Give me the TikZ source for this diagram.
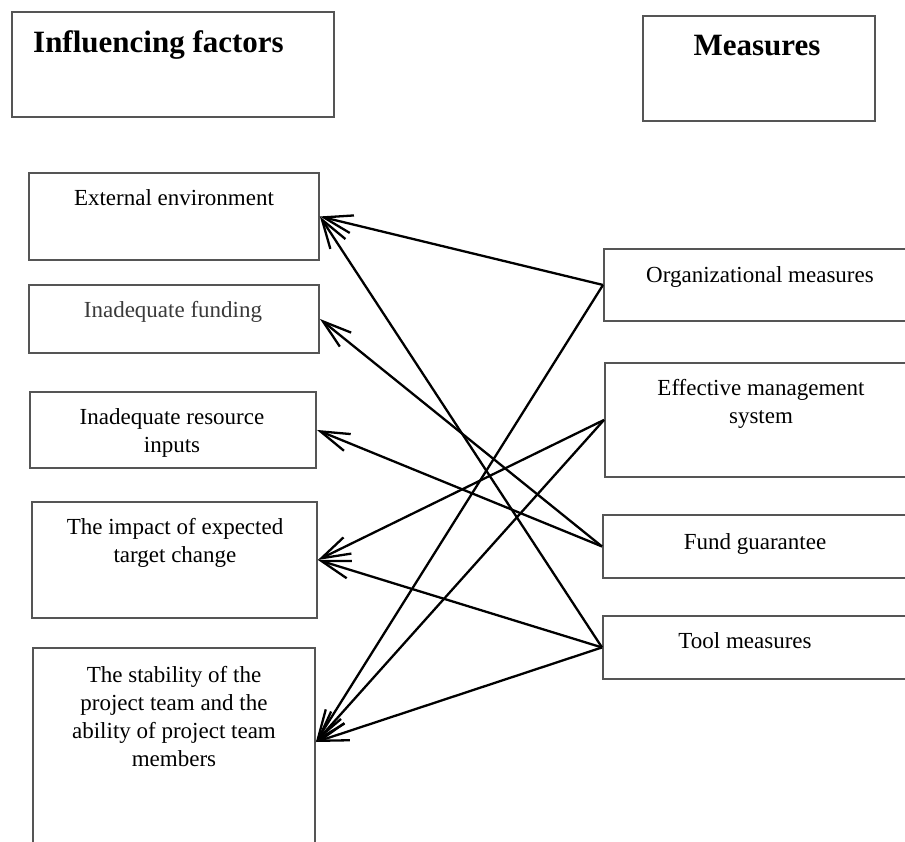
\documentclass[tikz,border=0pt]{standalone}
\usepackage{fontspec}
\setmainfont{Liberation Serif}
\usetikzlibrary{arrows.meta}
\definecolor{boxgray}{HTML}{555555}
\definecolor{txtgray}{HTML}{3A3A3A}
\begin{document}
\begin{tikzpicture}[x=1pt,y=-1pt,
  box/.style={draw=boxgray, line width=1.9pt, rectangle, inner sep=0pt, anchor=north west},
  lbl/.style={anchor=north, inner sep=0pt, align=center, font=\fontsize{23}{28}\selectfont},
  ttl/.style={anchor=base, inner sep=0pt, font=\fontsize{31}{36}\selectfont\bfseries},
  link/.style={line width=2.3pt, -{Straight Barb[length=29pt,width=18pt]}}]
\useasboundingbox (0,0) rectangle (905,841);
\clip (0,0) rectangle (905,841);
% header boxes
\node[box, minimum width=322pt, minimum height=105pt] (inf) at (11,11) {};
\node[box, minimum width=232pt, minimum height=105pt] (mea) at (642,15) {};
\node[ttl, anchor=base west] (tinf) at (33,52) {Influencing factors};
\node[ttl] (tmea) at (757,55) {Measures};
% left boxes
\node[box, minimum width=290pt, minimum height=87pt] (ext) at (28,172) {};
\node[box, minimum width=290pt, minimum height=68pt] (fund) at (28,284) {};
\node[box, minimum width=286pt, minimum height=76pt] (res) at (29,391) {};
\node[box, minimum width=285pt, minimum height=116pt] (imp) at (31,501) {};
\node[box, minimum width=282pt, minimum height=260pt] (stab) at (32,647) {};
% right boxes
\node[box, minimum width=400pt, minimum height=72pt] (org) at (603,248) {};
\node[box, minimum width=400pt, minimum height=114pt] (ems) at (604,362) {};
\node[box, minimum width=400pt, minimum height=63pt] (fg) at (602,514) {};
\node[box, minimum width=400pt, minimum height=63pt] (tool) at (602,615) {};
% labels
\node[lbl] (text) at (174,189) {External environment};
\node[lbl, text=txtgray] (tfund) at (173,301) {Inadequate funding};
\node[lbl] (tres) at (172,408) {Inadequate resource\\inputs};
\node[lbl] (timp) at (175,518) {The impact of expected\\target change};
\node[lbl] (tstab) at (174,666) {The stability of the\\project team and the\\ability of project team\\members};
\node[lbl] (torg) at (760,266) {Organizational measures};
\node[lbl] (tems) at (761,379) {Effective management\\system};
\node[lbl] (tfg) at (755,533) {Fund guarantee};
\node[lbl] (ttool) at (745,632) {Tool measures};
\coordinate (stabT) at ([yshift=-95pt]stab.north east);
% connectors
\draw[link] (org.west) -- (ext.east);
\draw[link] (org.west) -- (stabT);
\draw[link] (ems.west) -- (imp.east);
\draw[link] (ems.west) -- (stabT);
\draw[link] (fg.west) -- (fund.east);
\draw[link] (fg.west) -- (res.east);
\draw[link] (tool.west) -- (ext.east);
\draw[link] (tool.west) -- (imp.east);
\draw[link] (tool.west) -- (stabT);
\end{tikzpicture}
\end{document}
